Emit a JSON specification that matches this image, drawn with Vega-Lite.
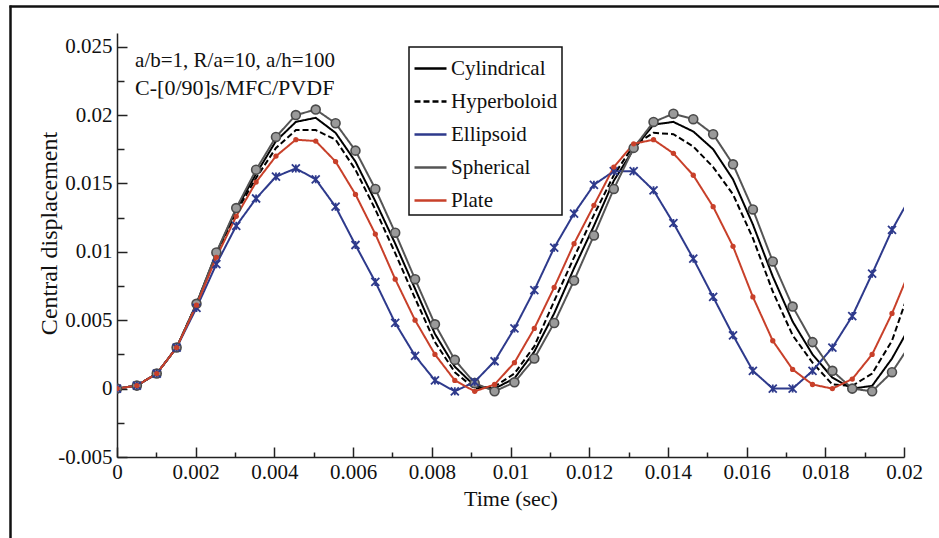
{
  "$schema": "https://vega.github.io/schema/vega-lite/v6.json",
  "width": 787,
  "height": 424,
  "autosize": "none",
  "padding": {"left": 117, "top": 33, "right": 35, "bottom": 81},
  "background": "white",
  "config": {"view": {"stroke": null}, "font": "Liberation Serif"},
  "datasets": {
    "d": [
      {"t": 0, "Cylindrical": 0, "Hyperboloid": 0, "Ellipsoid": 0, "Spherical": 0, "Plate": 0},
      {"t": 0.000505, "Cylindrical": 0.00022, "Hyperboloid": 0.00022, "Ellipsoid": 0.00022, "Spherical": 0.00022, "Plate": 0.00022},
      {"t": 0.00101, "Cylindrical": 0.0011, "Hyperboloid": 0.0011, "Ellipsoid": 0.0011, "Spherical": 0.0011, "Plate": 0.0011},
      {"t": 0.001515, "Cylindrical": 0.003, "Hyperboloid": 0.003, "Ellipsoid": 0.003, "Spherical": 0.003, "Plate": 0.003},
      {"t": 0.00202, "Cylindrical": 0.0062, "Hyperboloid": 0.0062, "Ellipsoid": 0.0059, "Spherical": 0.0062, "Plate": 0.0061},
      {"t": 0.002525, "Cylindrical": 0.0099, "Hyperboloid": 0.0098, "Ellipsoid": 0.0091, "Spherical": 0.00995, "Plate": 0.0096},
      {"t": 0.00303, "Cylindrical": 0.0131, "Hyperboloid": 0.0129, "Ellipsoid": 0.0119, "Spherical": 0.0132, "Plate": 0.0126},
      {"t": 0.003535, "Cylindrical": 0.0157, "Hyperboloid": 0.0154, "Ellipsoid": 0.0139, "Spherical": 0.016, "Plate": 0.0151},
      {"t": 0.00404, "Cylindrical": 0.0181, "Hyperboloid": 0.0176, "Ellipsoid": 0.0155, "Spherical": 0.0184, "Plate": 0.017},
      {"t": 0.004545, "Cylindrical": 0.0195, "Hyperboloid": 0.0189, "Ellipsoid": 0.0161, "Spherical": 0.02, "Plate": 0.0182},
      {"t": 0.00505, "Cylindrical": 0.0198, "Hyperboloid": 0.0189, "Ellipsoid": 0.0153, "Spherical": 0.0204, "Plate": 0.0181},
      {"t": 0.005555, "Cylindrical": 0.0187, "Hyperboloid": 0.0182, "Ellipsoid": 0.0133, "Spherical": 0.0194, "Plate": 0.0166},
      {"t": 0.00606, "Cylindrical": 0.0166, "Hyperboloid": 0.016, "Ellipsoid": 0.0105, "Spherical": 0.0174, "Plate": 0.0142},
      {"t": 0.006565, "Cylindrical": 0.0137, "Hyperboloid": 0.0131, "Ellipsoid": 0.0078, "Spherical": 0.0146, "Plate": 0.0113},
      {"t": 0.00707, "Cylindrical": 0.0106, "Hyperboloid": 0.0099, "Ellipsoid": 0.0048, "Spherical": 0.0114, "Plate": 0.008},
      {"t": 0.007575, "Cylindrical": 0.0073, "Hyperboloid": 0.0066, "Ellipsoid": 0.0024, "Spherical": 0.008, "Plate": 0.005},
      {"t": 0.00808, "Cylindrical": 0.004, "Hyperboloid": 0.0034, "Ellipsoid": 0.0006, "Spherical": 0.0047, "Plate": 0.0025},
      {"t": 0.008585, "Cylindrical": 0.0016, "Hyperboloid": 0.0012, "Ellipsoid": -0.0002, "Spherical": 0.0021, "Plate": 0.0006},
      {"t": 0.00909, "Cylindrical": 0.0002, "Hyperboloid": 0.0, "Ellipsoid": 0.0005, "Spherical": 0.0004, "Plate": -0.0002},
      {"t": 0.009595, "Cylindrical": 0.0, "Hyperboloid": 0.00015, "Ellipsoid": 0.002, "Spherical": -0.0002, "Plate": 0.0003},
      {"t": 0.0101, "Cylindrical": 0.00075, "Hyperboloid": 0.0011, "Ellipsoid": 0.0044, "Spherical": 0.00046, "Plate": 0.0019},
      {"t": 0.010605, "Cylindrical": 0.0027, "Hyperboloid": 0.0031, "Ellipsoid": 0.0072, "Spherical": 0.0022, "Plate": 0.0044},
      {"t": 0.01111, "Cylindrical": 0.0055, "Hyperboloid": 0.0064, "Ellipsoid": 0.0103, "Spherical": 0.0048, "Plate": 0.0074},
      {"t": 0.011615, "Cylindrical": 0.0088, "Hyperboloid": 0.0096, "Ellipsoid": 0.0128, "Spherical": 0.0079, "Plate": 0.0106},
      {"t": 0.01212, "Cylindrical": 0.0119, "Hyperboloid": 0.0127, "Ellipsoid": 0.0149, "Spherical": 0.0112, "Plate": 0.0134},
      {"t": 0.012625, "Cylindrical": 0.0152, "Hyperboloid": 0.0156, "Ellipsoid": 0.0159, "Spherical": 0.0146, "Plate": 0.0162},
      {"t": 0.01313, "Cylindrical": 0.0175, "Hyperboloid": 0.0178, "Ellipsoid": 0.0159, "Spherical": 0.0176, "Plate": 0.0179},
      {"t": 0.013635, "Cylindrical": 0.0193, "Hyperboloid": 0.0187, "Ellipsoid": 0.0145, "Spherical": 0.0195, "Plate": 0.0182},
      {"t": 0.01414, "Cylindrical": 0.0195, "Hyperboloid": 0.0186, "Ellipsoid": 0.0121, "Spherical": 0.0201, "Plate": 0.0172},
      {"t": 0.014645, "Cylindrical": 0.0188, "Hyperboloid": 0.0177, "Ellipsoid": 0.0095, "Spherical": 0.0197, "Plate": 0.0156},
      {"t": 0.01515, "Cylindrical": 0.0175, "Hyperboloid": 0.0162, "Ellipsoid": 0.0067, "Spherical": 0.0186, "Plate": 0.0133},
      {"t": 0.015655, "Cylindrical": 0.0153, "Hyperboloid": 0.0142, "Ellipsoid": 0.0039, "Spherical": 0.0164, "Plate": 0.0104},
      {"t": 0.01616, "Cylindrical": 0.012, "Hyperboloid": 0.011, "Ellipsoid": 0.0013, "Spherical": 0.0131, "Plate": 0.0067},
      {"t": 0.016665, "Cylindrical": 0.0082, "Hyperboloid": 0.0071, "Ellipsoid": 0.0, "Spherical": 0.0093, "Plate": 0.0035},
      {"t": 0.01717, "Cylindrical": 0.0049, "Hyperboloid": 0.0039, "Ellipsoid": 0.0, "Spherical": 0.006, "Plate": 0.0014},
      {"t": 0.017675, "Cylindrical": 0.0025, "Hyperboloid": 0.0019, "Ellipsoid": 0.0013, "Spherical": 0.0034, "Plate": 0.0003},
      {"t": 0.01818, "Cylindrical": 0.0008, "Hyperboloid": 0.0003, "Ellipsoid": 0.003, "Spherical": 0.0013, "Plate": 0.0},
      {"t": 0.018685, "Cylindrical": 0.0, "Hyperboloid": 0.0002, "Ellipsoid": 0.0053, "Spherical": 0.0, "Plate": 0.0007},
      {"t": 0.01919, "Cylindrical": 0.0002, "Hyperboloid": 0.0011, "Ellipsoid": 0.0084, "Spherical": -0.0002, "Plate": 0.0025},
      {"t": 0.019695, "Cylindrical": 0.0022, "Hyperboloid": 0.0035, "Ellipsoid": 0.0116, "Spherical": 0.0012, "Plate": 0.0055},
      {"t": 0.0202, "Cylindrical": 0.0048, "Hyperboloid": 0.0077, "Ellipsoid": 0.0142, "Spherical": 0.0034, "Plate": 0.009}
    ]
  },
  "layer": [
    {
      "data": {"name": "d"},
      "transform": [
        {"fold": ["Cylindrical", "Hyperboloid", "Ellipsoid", "Spherical", "Plate"], "as": ["series", "v"]}
      ],
      "encoding": {
        "x": {
          "field": "t", "type": "quantitative",
          "scale": {"domain": [0, 0.02], "nice": false, "zero": false},
          "axis": {
            "title": "Time (sec)",
            "values": [0, 0.001, 0.002, 0.003, 0.004, 0.005, 0.006, 0.007, 0.008, 0.009, 0.01, 0.011, 0.012, 0.013, 0.014, 0.015, 0.016, 0.017, 0.018, 0.019, 0.02],
            "labelExpr": "round(datum.value*1000) % 2 == 0 ? '' + datum.value : ''",
            "tickSize": {"condition": {"test": "round(datum.value*1000) % 2 == 0", "value": -10}, "value": -5},
            "labelPadding": 14,
            "labelFlush": false,
            "labelOverlap": false,
            "grid": false,
            "domainColor": "#222", "domainWidth": 1.5,
            "tickColor": "#222", "tickWidth": 1.5,
            "labelFont": "Liberation Serif", "labelFontSize": 21, "labelColor": "#111",
            "titleFont": "Liberation Serif", "titleFontSize": 22, "titleFontWeight": "normal", "titleColor": "#111",
            "titlePadding": 1
          }
        },
        "y": {
          "field": "v", "type": "quantitative",
          "scale": {"domain": [-0.005, 0.026], "nice": false, "zero": false},
          "axis": {
            "title": "Central displacement",
            "values": [-0.005, -0.0025, 0, 0.0025, 0.005, 0.0075, 0.01, 0.0125, 0.015, 0.0175, 0.02, 0.0225, 0.025],
            "labelExpr": "round(datum.value*10000) % 50 == 0 ? '' + datum.value : ''",
            "tickSize": {"condition": {"test": "round(datum.value*10000) % 50 == 0", "value": -10}, "value": -7},
            "labelPadding": 15,
            "labelFlush": false,
            "labelOverlap": false,
            "grid": false,
            "domainColor": "#222", "domainWidth": 1.5,
            "tickColor": "#222", "tickWidth": 1.5,
            "labelFont": "Liberation Serif", "labelFontSize": 21, "labelColor": "#111",
            "titleFont": "Liberation Serif", "titleFontSize": 24, "titleFontWeight": "normal", "titleColor": "#111",
            "titleAngle": -90, "titleX": -61, "titleY": 200, "titleAlign": "center", "titleBaseline": "alphabetic"
          }
        }
      },
      "layer": [
        {
          "mark": {"type": "line", "strokeWidth": 2, "clip": true},
          "encoding": {
            "color": {
              "field": "series", "type": "nominal",
              "scale": {
                "domain": ["Cylindrical", "Hyperboloid", "Ellipsoid", "Spherical", "Plate"],
                "range": ["#000000", "#000000", "#2E3A8C", "#555555", "#C8402A"]
              },
              "legend": {
                "title": null,
                "orient": "none", "legendX": 292, "legendY": 14,
                "symbolType": "stroke", "symbolSize": 1024, "symbolStrokeWidth": 2.5,
                "labelFont": "Liberation Serif", "labelFontSize": 21, "labelColor": "#111",
                "labelOffset": 3, "rowPadding": 5,
                "strokeColor": "#111", "fillColor": "white", "padding": 4,
                "encode": {"legend": {"update": {"strokeWidth": {"value": 1.5}}}}
              }
            },
            "strokeDash": {
              "field": "series", "type": "nominal",
              "scale": {
                "domain": ["Cylindrical", "Hyperboloid", "Ellipsoid", "Spherical", "Plate"],
                "range": [[1, 0], [6, 3], [1, 0], [1, 0], [1, 0]]
              },
              "legend": {"title": null}
            }
          }
        },
        {
          "transform": [{"filter": "datum.series == 'Spherical'"}],
          "mark": {"type": "point", "shape": "circle", "size": 80, "filled": true, "fill": "#9a9a9a", "stroke": "#4a4a4a", "strokeWidth": 1.6, "opacity": 1, "clip": true}
        },
        {
          "transform": [{"filter": "datum.series == 'Ellipsoid'"}],
          "mark": {"type": "point", "shape": "M-1,-1L1,1M-1,1L1,-1M0,-1L0,1", "size": 64, "filled": false, "stroke": "#2E3A8C", "strokeWidth": 1.8, "opacity": 1, "clip": true}
        },
        {
          "transform": [{"filter": "datum.series == 'Plate'"}],
          "mark": {"type": "point", "shape": "circle", "size": 28, "filled": true, "fill": "#C8402A", "opacity": 1, "clip": true}
        },
        {
          "transform": [{"filter": "datum.t == 0 && datum.series == 'Cylindrical'"}],
          "mark": {"type": "text", "align": "left", "baseline": "alphabetic", "font": "Liberation Serif", "fontSize": 21, "color": "#111"},
          "encoding": {
            "x": {"datum": 0.00046, "type": "quantitative"},
            "y": {"datum": 0.0235, "type": "quantitative"},
            "text": {"value": "a/b=1, R/a=10, a/h=100"}
          }
        },
        {
          "transform": [{"filter": "datum.t == 0 && datum.series == 'Cylindrical'"}],
          "mark": {"type": "text", "align": "left", "baseline": "alphabetic", "font": "Liberation Serif", "fontSize": 22, "color": "#111"},
          "encoding": {
            "x": {"datum": 0.00046, "type": "quantitative"},
            "y": {"datum": 0.0215, "type": "quantitative"},
            "text": {"value": "C-[0/90]s/MFC/PVDF"}
          }
        }
      ]
    },
    {
      "data": {"values": [{}]},
      "mark": {"type": "point", "opacity": 0},
      "encoding": {
        "x": {
          "datum": 0, "type": "quantitative",
          "scale": {"domain": [0, 1], "range": [-108, 830]},
          "axis": {"orient": "top", "offset": 27, "values": [], "ticks": false, "labels": false, "title": null, "grid": false, "domainColor": "#111", "domainWidth": 2.5}
        },
        "y": {
          "datum": 0, "type": "quantitative",
          "scale": {"domain": [0, 1], "range": [520, -28]},
          "axis": {"orient": "left", "offset": 107, "values": [], "ticks": false, "labels": false, "title": null, "grid": false, "domainColor": "#111", "domainWidth": 2.5}
        }
      }
    }
  ],
  "resolve": {"scale": {"x": "independent", "y": "independent"}}
}
